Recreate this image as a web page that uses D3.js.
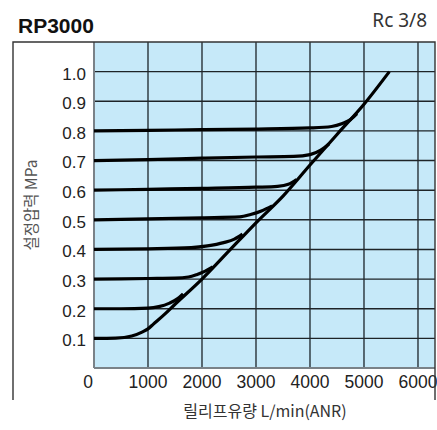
<!DOCTYPE html>
<html>
<head>
  <meta charset="utf-8">
  <title>RP3000 relief flow</title>
  <script src="https://cdnjs.cloudflare.com/ajax/libs/d3/7.8.5/d3.min.js"></script>
  <style>
    body { margin: 0; background: #fff; }
    svg { display: block; }
  </style>
</head>
<body>
<div id="chart"></div>
<script>

// set pressure (MPa) for each curve
var setPressures = [0.1, 0.2, 0.3, 0.4, 0.5, 0.6, 0.7, 0.8];

// [flow L/min, pressure MPa], one list per set pressure
var curve01 = [[0,0.1],[400,0.101],[700,0.108],[900,0.122],[1000,0.132],[1100,0.148],[1300,0.18],[1500,0.215],[2000,0.3],[2500,0.395],[3000,0.49],[3500,0.58],[4000,0.685],[4500,0.788],[5000,0.89],[5470,1.0]];
var curve02 = [[0,0.2],[500,0.2],[1000,0.202],[1200,0.207],[1400,0.219],[1550,0.234],[1650,0.25]];
var curve03 = [[0,0.3],[1000,0.302],[1500,0.303],[1750,0.307],[1900,0.315],[2050,0.326],[2200,0.341]];
var curve04 = [[0,0.4],[1000,0.402],[1800,0.406],[2100,0.412],[2400,0.423],[2600,0.435],[2750,0.452]];
var curve05 = [[0,0.5],[1000,0.503],[2000,0.507],[2700,0.51],[2900,0.518],[3100,0.53],[3300,0.547]];
var curve06 = [[0,0.6],[1000,0.603],[2000,0.606],[3000,0.61],[3400,0.613],[3600,0.62],[3750,0.636]];
var curve07 = [[0,0.7],[1000,0.703],[2000,0.708],[3000,0.712],[3700,0.714],[4000,0.72],[4200,0.735],[4350,0.756]];
var curve08 = [[0,0.8],[1000,0.802],[2000,0.804],[3000,0.806],[4000,0.81],[4400,0.815],[4600,0.825],[4750,0.838],[4870,0.858]];

var curves = [curve01, curve02, curve03, curve04, curve05, curve06, curve07, curve08];

var xTicks = [0, 1000, 2000, 3000, 4000, 5000, 6000];
var yTicks = [0.1, 0.2, 0.3, 0.4, 0.5, 0.6, 0.7, 0.8, 0.9, 1.0];

var W = 437, H = 430;

var svg = d3.select('#chart').append('svg')
            .attr('width', W)
            .attr('height', H);

var x = d3.scaleLinear().domain([0, 6315]).range([94, 435]);
var y = d3.scaleLinear().domain([0, 1.1]).range([368, 42]);

// blue plot area
svg.append('rect')
   .attr('x', x(0)).attr('y', y(1.1))
   .attr('width', x(6315) - x(0))
   .attr('height', y(0) - y(1.1))
   .attr('fill', '#c6e9f9');

// grid
svg.append('g').selectAll('line')
   .data(xTicks.slice(1))
   .enter().append('line')
   .attr('x1', function(d){ return x(d); })
   .attr('x2', function(d){ return x(d); })
   .attr('y1', y(1.1)).attr('y2', y(0))
   .attr('stroke', '#4a5a62')
   .attr('stroke-width', 1.8);

svg.append('g').selectAll('line')
   .data(yTicks)
   .enter().append('line')
   .attr('x1', x(0)).attr('x2', x(6315))
   .attr('y1', function(d){ return y(d); })
   .attr('y2', function(d){ return y(d); })
   .attr('stroke', '#1e2428')
   .attr('stroke-width', 1.4);

// plot edges (left and bottom)
svg.append('line')
   .attr('x1', x(0)).attr('x2', x(0))
   .attr('y1', y(1.1)).attr('y2', y(0))
   .attr('stroke', '#7a8288').attr('stroke-width', 2);
svg.append('line')
   .attr('x1', x(0)).attr('x2', x(6315))
   .attr('y1', y(0)).attr('y2', y(0))
   .attr('stroke', '#7a8288').attr('stroke-width', 2);

// curves
var line = d3.line()
             .x(function(d){ return x(d[0]); })
             .y(function(d){ return y(d[1]); })
             .curve(d3.curveMonotoneX);

svg.append('g').selectAll('path')
   .data(curves)
   .enter().append('path')
   .attr('d', line)
   .attr('fill', 'none')
   .attr('stroke', '#000')
   .attr('stroke-width', 3.2)
   .attr('stroke-linecap', 'butt');

// tick labels
svg.append('g').selectAll('text')
   .data(yTicks)
   .enter().append('text')
   .attr('x', 86)
   .attr('y', function(d){ return y(d) + 2; })
   .attr('dy', '0.35em')
   .attr('text-anchor', 'end')
   .attr('font-family', 'Liberation Sans, Arial, sans-serif')
   .attr('font-size', 17)
   .attr('fill', '#222')
   .text(function(d){ return d3.format('.1f')(d); });

svg.append('g').selectAll('text')
   .data(xTicks)
   .enter().append('text')
   .attr('x', function(d){ return x(d) - (d === 0 ? 6 : 0); })
   .attr('y', 388)
   .attr('text-anchor', 'middle')
   .attr('font-family', 'Liberation Sans, Arial, sans-serif')
   .attr('font-size', 17.5)
   .attr('fill', '#222')
   .text(function(d){ return d; });

// outer frame
svg.append('path')
   .attr('d', 'M13,400 V42 H435 V400')
   .attr('fill', 'none')
   .attr('stroke', '#333')
   .attr('stroke-width', 1.4);

// titles
svg.append('text')
   .attr('x', 18).attr('y', 33)
   .attr('font-family', 'Liberation Sans, Arial, sans-serif')
   .attr('font-weight', 'bold')
   .attr('font-size', 21)
   .attr('fill', '#111')
   .text('RP3000');

svg.append('text')
   .attr('x', 427).attr('y', 27)
   .attr('text-anchor', 'end')
   .attr('font-family', 'Noto Sans, sans-serif')
   .attr('font-size', 19)
   .attr('fill', '#333')
   .text('Rc 3/8');

svg.append('text')
   .attr('x', 265).attr('y', 417)
   .attr('text-anchor', 'middle')
   .attr('font-family', 'Noto Sans CJK KR, Noto Sans, sans-serif')
   .attr('font-size', 16)
   .attr('fill', '#333')
   .text('릴리프유량 L/min(ANR)');

svg.append('text')
   .attr('transform', 'translate(37,205) rotate(-90)')
   .attr('text-anchor', 'middle')
   .attr('font-family', 'Noto Sans CJK KR, Noto Sans, sans-serif')
   .attr('font-size', 15.5)
   .attr('fill', '#555')
   .text('설정압력 MPa');

</script>
</body>
</html>
